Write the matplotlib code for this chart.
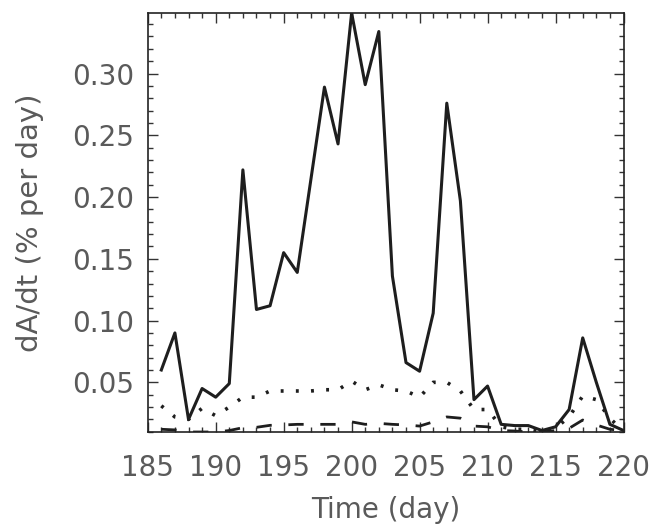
import numpy as np
import matplotlib.pyplot as plt

# Donnees
days = np.arange(186, 221)

rate_total = [0.060, 0.090, 0.020, 0.045, 0.038, 0.049, 0.222, 0.109, 0.112, 0.155,
              0.139, 0.214, 0.289, 0.243, 0.349, 0.291, 0.334, 0.136, 0.066, 0.059,
              0.106, 0.276, 0.197, 0.036, 0.047, 0.016, 0.015, 0.015, 0.011, 0.014,
              0.028, 0.086, 0.050, 0.016, 0.011]

rate_dot = [0.031, 0.022, 0.020, 0.029, 0.023, 0.030, 0.038, 0.038, 0.043, 0.043,
            0.043, 0.043, 0.044, 0.044, 0.051, 0.044, 0.048, 0.044, 0.043, 0.038,
            0.050, 0.050, 0.043, 0.028, 0.028, 0.014, 0.012, 0.012, 0.010, 0.013,
            0.022, 0.039, 0.036, 0.021, 0.010]

rate_dash = [0.012, 0.0115, 0.0098, 0.0098, 0.0098, 0.011, 0.0133, 0.0136, 0.0152, 0.0155,
             0.016, 0.016, 0.016, 0.016, 0.018, 0.016, 0.0168, 0.016, 0.0155, 0.0146,
             0.018, 0.022, 0.021, 0.0146, 0.014, 0.011, 0.0106, 0.0098, 0.0098, 0.011,
             0.0128, 0.0195, 0.0155, 0.012, 0.011]

x_ticks = [185, 190, 195, 200, 205, 210, 215, 220]
y_ticks = [0.05, 0.10, 0.15, 0.20, 0.25, 0.30]

plt.rcParams['font.family'] = 'DejaVu Sans'
txt_col = '#5a5a5a'

fig = plt.figure(figsize=(6.66, 5.26), dpi=100)
ax = fig.add_axes([0.2218, 0.1787, 0.7144, 0.7966])

ax.plot(days, rate_total, color='#1e1e1e', lw=2.2)
ax.plot(days, rate_dot, color='#1e1e1e', lw=2.6, linestyle=(0, (0.8, 3.4)))
ax.plot(days, rate_dash, color='#1e1e1e', lw=2.0, linestyle=(0, (5.5, 6.0)))

ax.set_xlim(185, 220)
ax.set_ylim(0.0098, 0.349)
ax.set_xticks(x_ticks)
ax.set_yticks(y_ticks)
ax.set_xticks(np.arange(185, 221, 1), minor=True)
ax.set_yticks(np.arange(0.01, 0.35, 0.01), minor=True)
ax.set_yticklabels(['%.2f' % v for v in y_ticks])

ax.tick_params(which='both', direction='in', top=True, right=True,
               labelsize=20, labelcolor=txt_col, color='#333333', width=1.0)
ax.tick_params(which='major', length=7)
ax.tick_params(axis='x', which='major', pad=16)
ax.tick_params(axis='y', which='major', pad=10)
ax.tick_params(which='minor', length=3.5)
for s in ax.spines.values():
    s.set_linewidth(1.2)
    s.set_color('#222222')

ax.set_xlabel("Time (day)", fontsize=20, color=txt_col, labelpad=10)
ax.set_ylabel("dA/dt (% per day)", fontsize=21, color=txt_col, labelpad=20)

fig.savefig("out.png", dpi=100)
